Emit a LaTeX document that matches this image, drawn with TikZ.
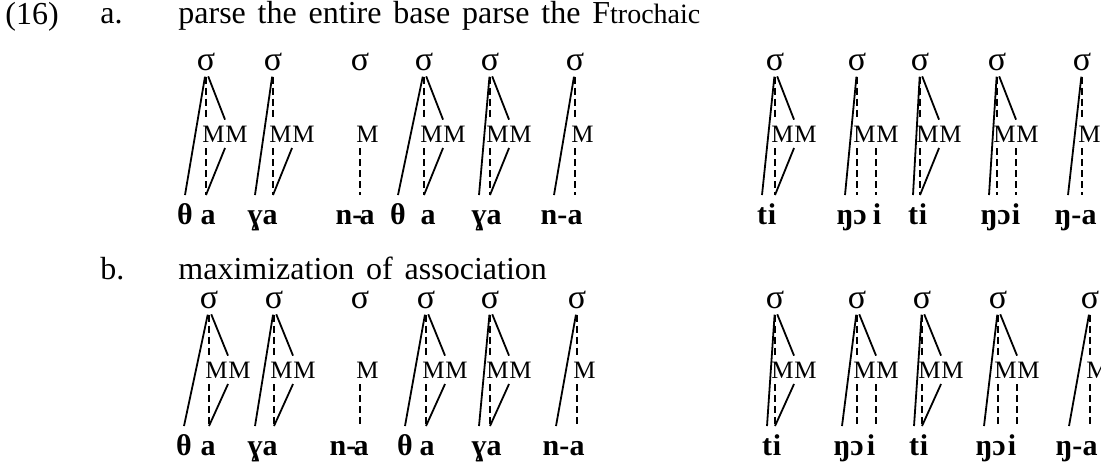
\documentclass[tikz,border=0pt]{standalone}
\usepackage{fontspec}
\setmainfont{Liberation Serif}
\usepackage{tikz}
\usetikzlibrary{positioning,calc}
\tikzset{
  hd/.style={inner sep=0pt, anchor=base west, font=\fontsize{16}{18}\selectfont, execute at begin node={\spaceskip=0.37em\relax}},
  syl/.style={inner sep=0pt, anchor=base, font=\fontsize{17}{18}\selectfont},
  mora/.style={inner sep=0pt, outer ysep=3pt, anchor=base west, font=\fontsize{12.5}{13}\selectfont},
  seg/.style={inner sep=0pt, text height=10pt, text depth=0pt, outer ysep=4.5pt, anchor=base, font=\fontsize{15}{16}\selectfont\bfseries},
  tie/.style={line width=0.9pt},
  dtie/.style={line width=0.9pt, dash pattern=on 3.5pt off 2pt},
  fromsyl/.style={shorten <=3pt},
}

\begin{document}
\begin{tikzpicture}[x=0.5pt, y=-0.5pt]
  \useasboundingbox (0,0) rectangle (1101,463);
  % headings
  \node[hd] (ex) at (5,24) {(16)};
  \node[hd] (la) at (100,23) {a.};
  \node[hd] (ta) at (178,23) {parse the entire base parse the F{\fontsize{14}{16}\selectfont trochaic}};
  \node[hd] (lb) at (100,279) {b.};
  \node[hd] (tb) at (178,279) {maximization of association};

  % (a) parse
  \foreach \x [count=\i] in {206,273,360,424,490,575,775,857,920,997,1082}
    \node[syl] (a\i) at (\x,70) {σ};
  \foreach \i in {1,...,11}
    \node[mora] (am\i) at ($(a\i.base)+(-4,72)$) {M};
  \foreach \i in {1,2,4,5,7,8,9,10}
    \node[mora, right=0pt of am\i] (an\i) {M};
  \foreach \n/\x/\t in {c1/185/θ, v1/208/a, c2/255/ɣ, v2/270/a, c3/349/n-, v3/367/a,
      c4/398/θ, v4/428/a, c5/479/ɣ, v5/494/a, c6/554/n-, v6/575/a,
      c7/762/t, v7/772/i, c8/845/ŋ, v8/860/ɔ, w8/877/i, c9/913/t, v9/923/i,
      c10/989/ŋ, v10/1004/ɔ, w10/1016/i, c11/1068/ŋ-, v11/1089/a}
    \node[seg] (a\n) at (\x,224) {\t};
  \foreach \i in {1,2,4,5,6,7,8,9,10,11} {
    \draw[tie, fromsyl] (a\i.south) -- (ac\i.north);
    \draw[dtie, fromsyl] (a\i.south) -- (a\i.south |- am\i.north);
  }
  \foreach \i in {1,4,5,7,9,10}
    \draw[tie, fromsyl] (a\i.south) -- (an\i.north west);
  \foreach \i in {1,...,11}
    \draw[dtie] (a\i.south |- am\i.south) -- (a\i.south |- av\i.north);
  \foreach \i in {1,2,4,5,7,9}
    \draw[tie] (an\i.south west) -- (a\i.south |- av\i.north);
  \foreach \i in {8,10}
    \draw[dtie] (an\i.south west) -- (an\i.south west |- aw\i.north);

  % (b) maximization
  \foreach \x [count=\i] in {209,274,360,426,490,577,775,857,922,998,1090}
    \node[syl] (b\i) at (\x,308) {σ};
  \foreach \i in {1,...,11}
    \node[mora] (bm\i) at ($(b\i.base)+(-4,70)$) {M};
  \foreach \i in {1,2,4,5,7,8,9,10}
    \node[mora, right=0pt of bm\i] (bn\i) {M};
  \foreach \n/\x/\t in {c1/184/θ, v1/208/a, c2/255/ɣ, v2/270/a, c3/343/n-, v3/361/a,
      c4/405/θ, v4/427/a, c5/479/ɣ, v5/494/a, c6/556/n-, v6/577/a,
      c7/767/t, v7/777/i, c8/842/ŋ, v8/857/ɔ, w8/871/i, c9/914/t, v9/924/i,
      c10/984/ŋ, v10/999/ɔ, w10/1012/i, c11/1069/ŋ-, v11/1090/a}
    \node[seg] (b\n) at (\x,455) {\t};
  \foreach \i in {1,2,4,5,6,7,8,9,10,11} {
    \draw[tie, fromsyl] (b\i.south) -- (bc\i.north);
    \draw[dtie, fromsyl] (b\i.south) -- (b\i.south |- bm\i.north);
  }
  \foreach \i in {1,2,4,5,7,8,9,10}
    \draw[tie, fromsyl] (b\i.south) -- (bn\i.north west);
  \foreach \i in {1,...,11}
    \draw[dtie] (b\i.south |- bm\i.south) -- (b\i.south |- bv\i.north);
  \foreach \i in {1,2,4,5,7,9}
    \draw[tie] (bn\i.south west) -- (b\i.south |- bv\i.north);
  \foreach \i in {8,10}
    \draw[dtie] (bn\i.south west) -- (bn\i.south west |- bw\i.north);
\end{tikzpicture}
\end{document}
